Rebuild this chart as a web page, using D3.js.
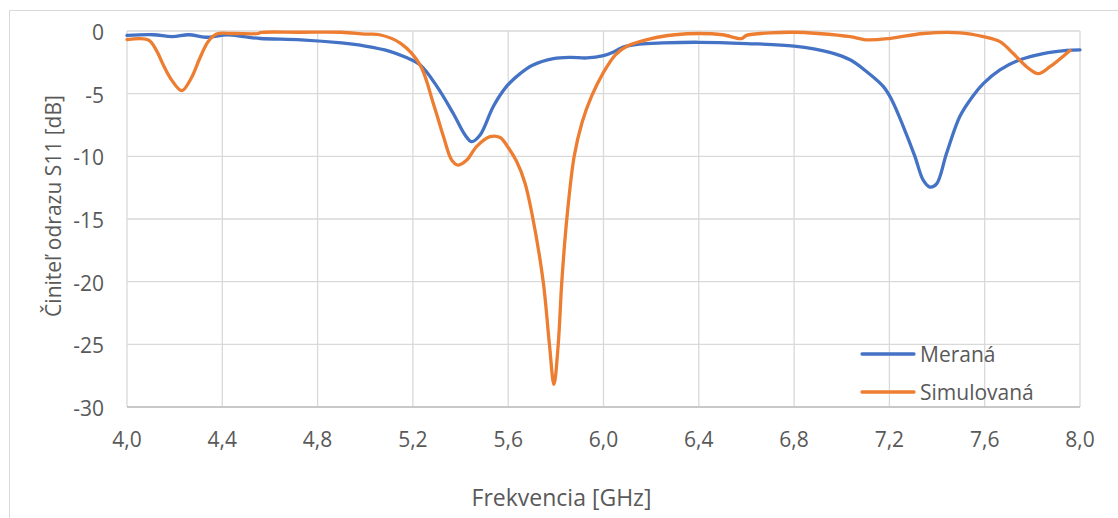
<!DOCTYPE html>
<html>
<head>
<meta charset="utf-8">
<script src="https://cdn.jsdelivr.net/npm/d3@7"></script>
<style>
  body { margin: 0; background: #fff; }
  text { font-family: "Open Sans", "Liberation Sans", sans-serif; fill: #595959; }
</style>
</head>
<body>
<svg width="1118" height="518"></svg>
<script>
// frequency [GHz] / S11 [dB]
var meranaF = [4.0, 4.11, 4.19, 4.26, 4.33, 4.42, 4.49, 4.56, 4.73, 4.9, 5.0, 5.1, 5.17, 5.23, 5.3, 5.37, 5.419, 5.447, 5.482, 5.538, 5.594, 5.65, 5.7, 5.79, 5.86, 5.93, 6.0, 6.04, 6.08, 6.15, 6.25, 6.4, 6.6, 6.8, 6.95, 7.035, 7.105, 7.175, 7.21, 7.258, 7.307, 7.342, 7.37, 7.398, 7.44, 7.496, 7.55, 7.594, 7.664, 7.748, 7.846, 7.944, 8.0];
var meranaDb = [-0.35, -0.3, -0.45, -0.3, -0.5, -0.3, -0.45, -0.6, -0.7, -0.95, -1.2, -1.6, -2.1, -2.7, -4.4, -6.6, -8.3, -8.83, -8.3, -6.0, -4.4, -3.4, -2.75, -2.2, -2.1, -2.15, -1.97, -1.7, -1.3, -1.05, -0.95, -0.9, -1.0, -1.2, -1.7, -2.3, -3.25, -4.44, -5.5, -7.6, -10.0, -11.9, -12.45, -12.2, -9.75, -6.8, -5.2, -4.2, -3.1, -2.3, -1.8, -1.55, -1.5];

var simF = [4.0, 4.09, 4.125, 4.152, 4.187, 4.23, 4.27, 4.306, 4.341, 4.376, 4.445, 4.55, 4.56, 4.73, 4.9, 5.0, 5.06, 5.15, 5.23, 5.286, 5.328, 5.363, 5.39, 5.426, 5.468, 5.524, 5.566, 5.6, 5.635, 5.67, 5.7, 5.747, 5.773, 5.792, 5.81, 5.825, 5.846, 5.877, 5.91, 5.95, 6.0, 6.05, 6.1, 6.2, 6.3, 6.4, 6.5, 6.58, 6.6, 6.7, 6.8, 6.9, 7.035, 7.1, 7.2, 7.343, 7.497, 7.594, 7.664, 7.72, 7.776, 7.825, 7.874, 7.958];
var simDb = [-0.69, -0.72, -1.6, -2.7, -3.9, -4.76, -3.75, -2.15, -0.83, -0.24, -0.2, -0.2, -0.12, -0.1, -0.1, -0.25, -0.3, -1.0, -2.7, -5.8, -8.4, -10.3, -10.7, -10.3, -9.2, -8.43, -8.5, -9.3, -10.4, -12.1, -14.6, -20, -25, -28.2, -25, -20, -15, -10, -7.3, -5.2, -3.3, -1.9, -1.2, -0.6, -0.3, -0.2, -0.3, -0.6, -0.35, -0.15, -0.1, -0.2, -0.45, -0.7, -0.6, -0.2, -0.15, -0.45, -0.85, -1.8, -2.85, -3.4, -2.85, -1.55];

var xTicks = [4.0, 4.4, 4.8, 5.2, 5.6, 6.0, 6.4, 6.8, 7.2, 7.6, 8.0];
var yTicks = [0, -5, -10, -15, -20, -25, -30];

var seriesNames = ["Meraná", "Simulovaná"];
var seriesColors = ["#4472C4", "#ED7D31"];

var series = [
  { name: seriesNames[0], color: seriesColors[0], pts: meranaF.map(function(f, i) { return [f, meranaDb[i]]; }) },
  { name: seriesNames[1], color: seriesColors[1], pts: simF.map(function(f, i) { return [f, simDb[i]]; }) }
];

var svg = d3.select("svg");
var plotLeft = 127, plotRight = 1080, plotTop = 31, plotBottom = 407;

var x = d3.scaleLinear().domain([4, 8]).range([plotLeft, plotRight]);
var y = d3.scaleLinear().domain([-30, 0]).range([plotBottom, plotTop]);

// outer chart border
svg.append("path")
    .attr("d", "M9.5,518V10.5H1118")
    .attr("fill", "none")
    .attr("stroke", "#d9d9d9");

// gridlines
svg.append("g").selectAll("line")
    .data(yTicks)
  .enter().append("line")
    .attr("x1", plotLeft).attr("x2", plotRight)
    .attr("y1", function(d) { return y(d); }).attr("y2", function(d) { return y(d); })
    .attr("stroke", "#d9d9d9").attr("stroke-width", 1.3);

svg.append("g").selectAll("line")
    .data(xTicks)
  .enter().append("line")
    .attr("x1", function(d) { return x(d); }).attr("x2", function(d) { return x(d); })
    .attr("y1", plotTop).attr("y2", plotBottom)
    .attr("stroke", "#d9d9d9").attr("stroke-width", 1.3);

// x axis line
svg.append("line")
    .attr("x1", plotLeft).attr("x2", plotRight)
    .attr("y1", plotBottom).attr("y2", plotBottom)
    .attr("stroke", "#bfbfbf").attr("stroke-width", 1.3);

var fmt = function(d) { return d3.format(".1f")(d).replace(".", ","); };

svg.append("g").selectAll("text")
    .data(xTicks)
  .enter().append("text")
    .attr("x", function(d) { return x(d); })
    .attr("y", 447)
    .attr("text-anchor", "middle")
    .style("font-size", "21px")
    .text(fmt);

svg.append("g").selectAll("text")
    .data(yTicks)
  .enter().append("text")
    .attr("x", 104)
    .attr("y", function(d) { return y(d) + 9; })
    .attr("text-anchor", "end")
    .style("font-size", "21px")
    .text(function(d) { return d; });

// axis titles
svg.append("text")
    .attr("x", (plotLeft + plotRight) / 2 - 42)
    .attr("y", 506)
    .attr("text-anchor", "middle")
    .style("font-size", "23px")
    .text("Frekvencia [GHz]");

svg.append("text")
    .attr("transform", "translate(61,206) rotate(-90)")
    .attr("text-anchor", "middle")
    .style("font-size", "21px")
    .text("Činiteľ odrazu S11 [dB]");

// lines
var line = d3.line()
    .x(function(d) { return x(d[0]); })
    .y(function(d) { return y(d[1]); })
    .curve(d3.curveCatmullRom.alpha(0.5));

svg.append("g").selectAll("path")
    .data(series)
  .enter().append("path")
    .attr("d", function(d) { return line(d.pts); })
    .attr("fill", "none")
    .attr("stroke", function(d) { return d.color; })
    .attr("stroke-width", 3.3)
    .attr("stroke-linejoin", "round")
    .attr("stroke-linecap", "round");

// legend
var legend = svg.append("g").selectAll("g")
    .data(series)
  .enter().append("g")
    .attr("transform", function(d, i) { return "translate(862," + (354 + i * 38) + ")"; });

legend.append("line")
    .attr("x1", 0).attr("x2", 52)
    .attr("stroke", function(d) { return d.color; })
    .attr("stroke-width", 3.3)
    .attr("stroke-linecap", "round");

legend.append("text")
    .attr("x", 58).attr("y", 8)
    .style("font-size", "21px")
    .text(function(d) { return d.name; });
</script>
</body>
</html>
